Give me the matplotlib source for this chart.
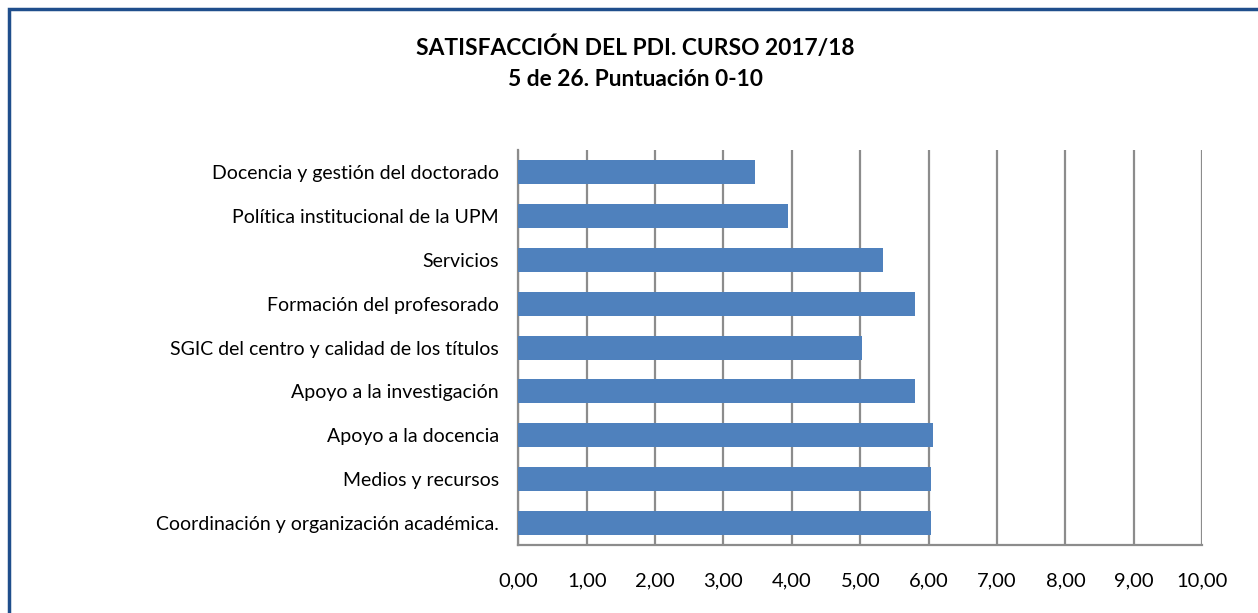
"""
Satisfacción del PDI, curso 2017/18 - barras horizontales
"""

import matplotlib.pyplot as plt
from matplotlib.patches import Rectangle
from matplotlib.ticker import FuncFormatter

# Datos (de arriba a abajo en el gráfico)
categorias = [
    'Docencia y gestión del doctorado',
    'Política institucional de la UPM',
    'Servicios',
    'Formación del profesorado',
    'SGIC del centro y calidad de los títulos',
    'Apoyo a la investigación',
    'Apoyo a la docencia',
    'Medios y recursos',
    'Coordinación y organización académica.',
]
puntuaciones = [3.46, 3.94, 5.33, 5.80, 5.02, 5.80, 6.06, 6.04, 6.04]
ticks_x = [0, 1, 2, 3, 4, 5, 6, 7, 8, 9, 10]

plt.rcParams['font.family'] = ['Lato', 'DejaVu Sans']

fig = plt.figure(figsize=(12.58, 6.13), dpi=100)
ax = fig.add_axes([0.412, 0.111, 0.5437, 0.644])

# posiciones invertidas para que la primera categoría quede arriba
pos = list(range(len(categorias)))[::-1]
ax.barh(pos, puntuaciones, height=0.55, color='#4F81BD', zorder=3)

ax.set_xlim(0, 10)
ax.set_ylim(-0.5, len(categorias) - 0.5)
ax.set_xticks(ticks_x)
ax.xaxis.set_major_formatter(FuncFormatter(lambda v, _: f'{v:.2f}'.replace('.', ',')))
ax.set_yticks(pos)
ax.set_yticklabels(categorias)

ax.tick_params(axis='y', length=0, pad=14, labelsize=14, colors='black')
ax.tick_params(axis='x', length=0, pad=20, labelsize=14.5, colors='black')

ax.grid(True, axis='x', color='#8c8c8c', linewidth=1.6, zorder=0)
for side in ['top', 'right']:
    ax.spines[side].set_visible(False)
for side in ['left', 'bottom']:
    ax.spines[side].set_color('#8c8c8c')
    ax.spines[side].set_linewidth(1.6)

fig.text(0.505, 0.922, 'SATISFACCIÓN DEL PDI. CURSO 2017/18',
         ha='center', va='center', fontsize=16.4, fontweight='bold')
fig.text(0.505, 0.871, '5 de 26. Puntuación 0-10',
         ha='center', va='center', fontsize=16.4, fontweight='bold')

# marco del gráfico (solo se ven borde superior e izquierdo)
fig.patches.append(Rectangle((9 / 1258, -0.05), 1.2, 1.05 - 9 / 613,
                             transform=fig.transFigure, fill=False,
                             edgecolor='#1F4E8C', linewidth=2.5))

plt.savefig('out.png', dpi=100)
